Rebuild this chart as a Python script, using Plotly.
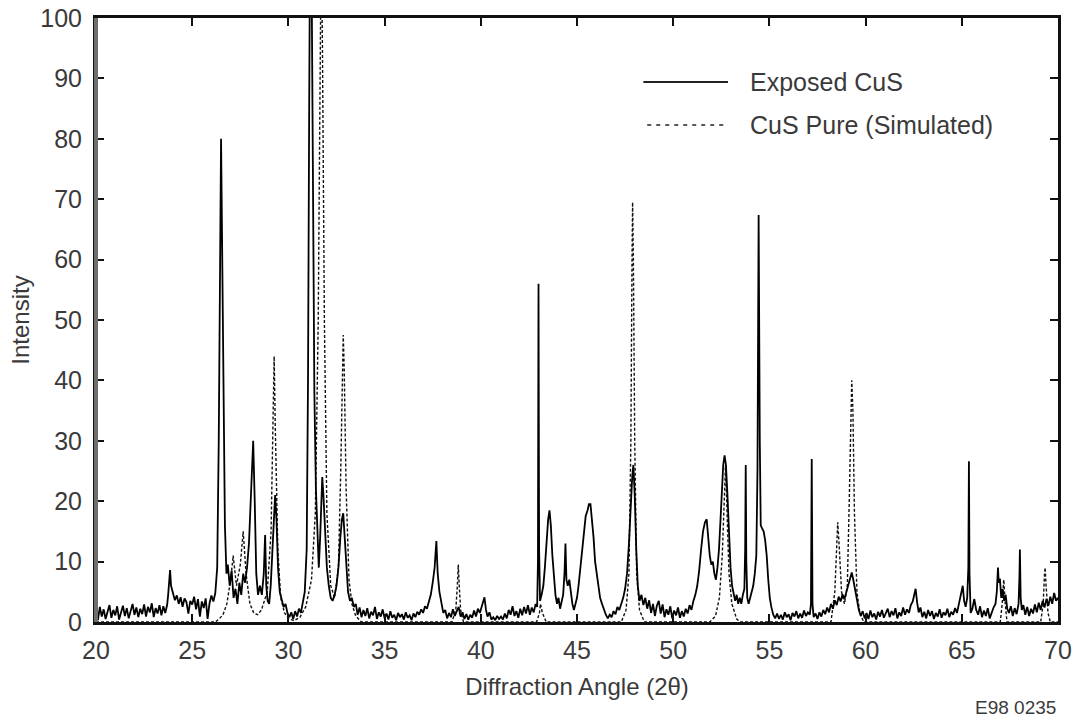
import plotly.graph_objects as go

exposed_points = [
    (20.0, 1.4), (20.1, 0.3), (20.2, 2.5), (20.3, 0.9), (20.4, 2.1), (20.5, 0.5), (20.6, 1.7), (20.7, 2.8),
    (20.8, 0.7), (20.9, 2.0), (21.0, 1.1), (21.1, 2.6), (21.2, 0.4), (21.3, 1.8), (21.4, 2.7), (21.5, 1.0),
    (21.6, 2.3), (21.7, 0.6), (21.8, 1.9), (21.9, 3.0), (22.0, 1.2), (22.1, 2.4), (22.2, 0.8), (22.3, 2.2),
    (22.4, 1.3), (22.5, 2.9), (22.6, 0.9), (22.7, 2.5), (22.8, 1.6), (22.9, 3.1), (23.0, 0.8), (23.1, 2.3),
    (23.2, 1.4), (23.3, 2.8), (23.4, 1.1), (23.5, 2.6), (23.6, 1.5), (23.7, 2.9), (23.75, 4.5), (23.8, 7.0),
    (23.85, 8.6), (23.9, 6.0), (24.0, 4.8), (24.1, 3.6), (24.2, 4.4), (24.3, 3.0), (24.4, 4.1), (24.5, 2.5),
    (24.6, 3.9), (24.7, 3.3), (24.8, 1.4), (24.9, 3.5), (25.0, 2.9), (25.1, 4.2), (25.2, 2.1), (25.3, 3.8),
    (25.4, 0.9), (25.5, 3.4), (25.6, 2.3), (25.7, 3.9), (25.8, 0.5), (25.9, 3.1), (26.0, 4.4), (26.1, 3.4),
    (26.2, 4.8), (26.3, 9.0), (26.38, 30.0), (26.45, 62.0), (26.5, 80.0), (26.55, 64.0), (26.62, 40.0),
    (26.7, 16.0), (26.78, 8.0), (26.85, 9.5), (26.95, 6.0), (27.05, 8.5), (27.15, 4.0), (27.25, 5.5),
    (27.35, 3.0), (27.45, 6.5), (27.55, 4.5), (27.65, 8.0), (27.75, 6.5), (27.85, 9.0), (27.95, 13.0),
    (28.05, 22.0), (28.17, 30.0), (28.25, 20.0), (28.33, 8.0), (28.42, 4.5), (28.52, 6.0), (28.62, 4.5),
    (28.72, 8.0), (28.79, 14.4), (28.85, 6.0), (28.92, 3.5), (29.0, 3.0), (29.08, 6.0), (29.16, 11.0),
    (29.24, 18.0), (29.31, 21.0), (29.38, 17.0), (29.46, 9.0), (29.55, 5.0), (29.65, 3.5), (29.75, 2.5),
    (29.85, 3.0), (29.95, 1.5), (30.05, 0.8), (30.15, 1.6), (30.25, 0.5), (30.35, 1.8), (30.45, 0.9),
    (30.55, 2.2), (30.65, 1.5), (30.75, 3.0), (30.85, 5.0), (30.95, 12.0), (31.02, 40.0), (31.08, 85.0),
    (31.13, 115.0), (31.2, 110.0), (31.27, 70.0), (31.35, 38.0), (31.43, 22.0), (31.5, 14.0), (31.58, 9.0),
    (31.65, 14.0), (31.71, 20.0), (31.76, 24.0), (31.82, 21.0), (31.9, 15.0), (32.0, 9.0), (32.1, 6.0),
    (32.2, 4.0), (32.3, 3.5), (32.4, 4.5), (32.5, 6.0), (32.6, 9.0), (32.7, 14.0), (32.78, 17.0),
    (32.85, 18.0), (32.93, 14.0), (33.0, 9.0), (33.1, 5.0), (33.2, 3.5), (33.3, 4.0), (33.4, 2.5),
    (33.5, 3.0), (33.6, 1.2), (33.7, 2.4), (33.8, 0.8), (33.9, 2.0), (34.0, 1.0), (34.1, 2.3), (34.2, 0.6),
    (34.3, 1.7), (34.4, 1.1), (34.5, 2.5), (34.6, 0.5), (34.7, 1.6), (34.8, 0.9), (34.9, 2.1), (35.0, 0.6),
    (35.1, 1.4), (35.2, 0.4), (35.3, 1.8), (35.4, 0.7), (35.5, 1.2), (35.6, 0.3), (35.7, 1.5), (35.8, 0.8),
    (35.9, 1.3), (36.0, 0.4), (36.1, 1.6), (36.2, 0.7), (36.3, 1.1), (36.4, 0.3), (36.5, 1.4), (36.6, 0.8),
    (36.7, 1.7), (36.8, 1.2), (36.9, 2.1), (37.0, 1.5), (37.1, 2.6), (37.2, 2.2), (37.3, 3.4), (37.4, 4.5),
    (37.5, 6.5), (37.6, 9.0), (37.69, 13.4), (37.76, 8.0), (37.85, 5.0), (37.95, 3.0), (38.05, 1.5),
    (38.15, 2.0), (38.25, 0.6), (38.35, 1.5), (38.45, 0.8), (38.55, 2.1), (38.65, 1.0), (38.75, 1.8),
    (38.85, 2.5), (38.95, 0.9), (39.05, 1.6), (39.15, 0.5), (39.25, 1.3), (39.35, 0.4), (39.45, 1.2),
    (39.55, 0.7), (39.65, 1.9), (39.75, 0.9), (39.85, 2.2), (39.95, 1.5), (40.05, 2.6), (40.12, 3.2),
    (40.19, 4.1), (40.27, 2.0), (40.35, 0.9), (40.45, 1.6), (40.55, 0.4), (40.65, 0.8), (40.75, 0.3),
    (40.85, 1.0), (40.95, 0.5), (41.05, 0.9), (41.15, 0.4), (41.25, 1.4), (41.35, 0.6), (41.45, 2.0),
    (41.55, 1.2), (41.65, 2.6), (41.75, 1.0), (41.85, 1.8), (41.95, 0.7), (42.05, 2.2), (42.15, 1.1),
    (42.25, 2.5), (42.35, 1.4), (42.45, 2.8), (42.55, 1.2), (42.65, 2.4), (42.75, 1.6), (42.85, 3.0),
    (42.93, 2.5), (42.97, 10.0), (43.0, 56.0), (43.03, 12.0), (43.08, 3.5), (43.16, 4.5), (43.25, 6.0),
    (43.33, 9.0), (43.42, 14.0), (43.5, 17.0), (43.57, 18.5), (43.64, 16.0), (43.72, 11.0), (43.8, 7.0),
    (43.88, 4.5), (43.96, 3.0), (44.04, 4.0), (44.12, 2.2), (44.2, 3.5), (44.28, 4.5), (44.35, 8.0),
    (44.4, 13.0), (44.45, 7.0), (44.52, 6.0), (44.6, 7.0), (44.68, 4.5), (44.76, 3.0), (44.84, 2.0),
    (44.92, 3.0), (45.0, 4.0), (45.08, 6.0), (45.16, 8.5), (45.25, 12.0), (45.35, 15.0), (45.45, 17.5),
    (45.55, 18.5), (45.62, 19.5), (45.7, 19.5), (45.78, 17.0), (45.86, 14.0), (45.94, 10.0), (46.02, 8.0),
    (46.1, 6.0), (46.2, 4.0), (46.3, 3.0), (46.4, 2.0), (46.5, 1.2), (46.6, 0.6), (46.7, 1.2), (46.8, 0.8),
    (46.9, 1.8), (47.0, 1.3), (47.1, 2.5), (47.2, 2.0), (47.3, 3.0), (47.4, 4.0), (47.5, 5.5), (47.6, 8.0),
    (47.7, 13.0), (47.8, 20.0), (47.87, 24.0), (47.93, 26.0), (48.0, 21.0), (48.08, 12.0), (48.16, 6.0),
    (48.25, 3.5), (48.35, 4.5), (48.45, 2.8), (48.55, 4.0), (48.65, 2.2), (48.75, 3.6), (48.85, 1.5),
    (48.95, 3.0), (49.05, 1.0), (49.15, 2.7), (49.25, 3.5), (49.35, 1.4), (49.45, 2.9), (49.55, 0.8),
    (49.65, 2.1), (49.75, 1.2), (49.85, 2.6), (49.95, 0.6), (50.05, 1.9), (50.15, 1.1), (50.25, 2.4),
    (50.35, 0.7), (50.45, 1.8), (50.55, 0.9), (50.65, 2.2), (50.75, 1.4), (50.85, 2.8), (50.95, 2.0),
    (51.05, 3.5), (51.15, 4.5), (51.25, 6.0), (51.35, 8.5), (51.45, 12.0), (51.55, 15.0), (51.65, 16.5),
    (51.74, 17.0), (51.82, 14.0), (51.9, 11.0), (51.98, 9.5), (52.06, 10.0), (52.14, 8.0), (52.22, 7.0),
    (52.3, 9.0), (52.38, 12.0), (52.46, 17.0), (52.54, 22.0), (52.6, 26.0), (52.67, 27.6), (52.74, 26.0),
    (52.82, 21.0), (52.9, 14.0), (52.98, 9.0), (53.06, 6.0), (53.14, 4.5), (53.22, 3.5), (53.3, 4.5),
    (53.38, 3.0), (53.46, 4.0), (53.54, 3.0), (53.62, 4.5), (53.7, 5.5), (53.74, 12.0), (53.77, 26.0),
    (53.8, 10.0), (53.85, 4.0), (53.92, 3.0), (54.0, 4.0), (54.08, 5.0), (54.16, 6.0), (54.24, 8.0),
    (54.32, 11.0), (54.38, 25.0), (54.44, 67.4), (54.5, 30.0), (54.55, 16.0), (54.62, 15.5), (54.7, 15.0),
    (54.78, 13.5), (54.86, 11.0), (54.94, 7.0), (55.02, 4.0), (55.1, 2.5), (55.2, 1.2), (55.3, 0.6),
    (55.4, 1.4), (55.5, 0.5), (55.6, 1.2), (55.7, 0.4), (55.8, 1.6), (55.9, 0.8), (56.0, 1.3), (56.1, 0.3),
    (56.2, 1.5), (56.3, 0.9), (56.4, 1.8), (56.5, 0.6), (56.6, 1.4), (56.7, 0.7), (56.8, 1.9), (56.9, 1.0),
    (57.0, 1.6), (57.1, 1.2), (57.16, 3.0), (57.2, 27.0), (57.24, 3.0), (57.3, 0.8), (57.4, 1.4), (57.5, 0.5),
    (57.6, 1.6), (57.7, 0.9), (57.8, 2.0), (57.9, 1.3), (58.0, 2.4), (58.1, 1.6), (58.2, 3.0), (58.3, 2.2),
    (58.4, 3.6), (58.5, 2.8), (58.6, 4.2), (58.7, 3.4), (58.8, 4.6), (58.9, 3.8), (59.0, 5.0), (59.1, 6.0),
    (59.2, 7.2), (59.28, 8.2), (59.36, 7.0), (59.45, 5.5), (59.55, 3.5), (59.65, 2.0), (59.75, 1.0),
    (59.85, 1.8), (59.95, 0.6), (60.05, 1.5), (60.15, 0.5), (60.25, 1.9), (60.35, 0.8), (60.45, 1.4),
    (60.55, 0.4), (60.65, 1.7), (60.75, 0.9), (60.85, 2.0), (60.95, 0.7), (61.05, 1.5), (61.15, 2.2),
    (61.25, 0.8), (61.35, 1.8), (61.45, 1.1), (61.55, 2.3), (61.65, 0.6), (61.75, 1.6), (61.85, 1.0),
    (61.95, 2.4), (62.05, 1.2), (62.15, 2.1), (62.25, 1.5), (62.35, 2.8), (62.45, 3.4), (62.55, 4.6),
    (62.6, 5.5), (62.68, 3.2), (62.76, 1.6), (62.85, 2.4), (62.95, 0.8), (63.05, 1.7), (63.15, 0.6),
    (63.25, 2.0), (63.35, 1.0), (63.45, 1.8), (63.55, 0.5), (63.65, 1.5), (63.75, 0.9), (63.85, 2.1),
    (63.95, 0.7), (64.05, 1.6), (64.15, 1.1), (64.25, 2.2), (64.35, 0.8), (64.45, 1.7), (64.55, 1.2),
    (64.65, 2.3), (64.75, 1.5), (64.85, 3.0), (64.95, 4.5), (65.05, 6.0), (65.12, 3.5), (65.2, 2.5),
    (65.28, 4.0), (65.34, 9.0), (65.37, 26.6), (65.4, 8.0), (65.46, 1.5), (65.55, 2.2), (65.65, 3.8),
    (65.75, 2.0), (65.85, 1.2), (65.95, 2.6), (66.05, 0.8), (66.15, 1.9), (66.25, 1.0), (66.35, 2.3),
    (66.45, 0.6), (66.55, 1.7), (66.65, 2.4), (66.75, 3.0), (66.82, 5.0), (66.88, 9.0), (66.92, 6.5),
    (66.98, 7.2), (67.05, 4.0), (67.12, 5.5), (67.2, 3.5), (67.28, 4.5), (67.36, 2.2), (67.45, 1.5),
    (67.55, 2.6), (67.65, 1.0), (67.75, 2.3), (67.85, 1.3), (67.95, 3.0), (68.0, 8.0), (68.02, 12.0),
    (68.06, 4.0), (68.12, 2.0), (68.2, 2.8), (68.3, 1.2), (68.4, 2.5), (68.5, 1.0), (68.6, 2.2), (68.7, 1.4),
    (68.8, 2.9), (68.9, 1.6), (69.0, 3.2), (69.1, 2.0), (69.2, 3.5), (69.3, 2.4), (69.4, 3.8), (69.5, 2.7),
    (69.6, 4.2), (69.7, 3.0), (69.8, 4.8), (69.9, 3.5), (70.0, 4.0),
]

# ---- CuS Pure (Simulated) pattern ----
simulated_points = [
    (20.0, 0.0), (26.2, 0.0), (26.4, 0.5), (26.6, 1.2), (26.8, 3.0), (27.0, 7.0), (27.13, 11.0),
    (27.3, 6.0), (27.5, 9.5), (27.65, 15.0), (27.8, 8.0), (28.0, 3.0), (28.2, 1.5), (28.4, 1.2),
    (28.6, 2.0), (28.9, 5.0), (29.1, 15.0), (29.2, 32.0), (29.26, 44.0), (29.32, 32.0), (29.45, 12.0),
    (29.6, 4.0), (29.8, 1.5), (30.0, 0.6), (30.3, 0.2), (30.6, 0.8), (30.9, 2.5), (31.2, 7.0),
    (31.4, 18.0), (31.55, 50.0), (31.65, 95.0), (31.71, 115.0), (31.77, 95.0), (31.87, 50.0),
    (32.0, 18.0), (32.2, 6.0), (32.4, 4.0), (32.6, 9.0), (32.72, 25.0), (32.8, 42.0), (32.85, 47.5),
    (32.9, 42.0), (33.0, 22.0), (33.15, 7.0), (33.3, 3.0), (33.5, 1.0), (33.8, 0.0), (38.5, 0.0),
    (38.7, 2.0), (38.78, 6.0), (38.83, 9.5), (38.88, 6.0), (38.95, 2.0), (39.1, 0.0), (42.9, 0.0),
    (43.05, 1.5), (43.1, 3.0), (43.2, 1.5), (43.4, 0.0), (47.3, 0.0), (47.55, 2.0), (47.7, 8.0),
    (47.8, 30.0), (47.86, 60.0), (47.89, 69.5), (47.93, 60.0), (48.0, 30.0), (48.1, 8.0), (48.25, 2.0),
    (48.5, 0.0), (51.9, 0.0), (52.2, 1.0), (52.4, 4.0), (52.55, 11.0), (52.65, 20.0), (52.72, 26.0),
    (52.8, 18.0), (52.9, 8.0), (53.05, 3.0), (53.3, 0.5), (53.5, 0.0), (58.2, 0.0), (58.4, 5.0),
    (58.5, 14.0), (58.55, 16.5), (58.62, 13.0), (58.75, 5.0), (58.9, 3.0), (59.05, 6.0), (59.15, 20.0),
    (59.22, 35.0), (59.28, 40.0), (59.34, 35.0), (59.42, 18.0), (59.55, 5.0), (59.7, 1.5), (59.9, 0.0),
    (67.0, 0.0), (67.1, 3.0), (67.18, 7.0), (67.26, 3.0), (67.35, 0.0), (69.1, 0.0), (69.23, 3.0),
    (69.3, 8.0), (69.33, 9.0), (69.38, 6.0), (69.48, 1.5), (69.6, 0.0), (70.0, 0.0),
]

x_ticks = [20, 25, 30, 35, 40, 45, 50, 55, 60, 65, 70]
y_ticks = [0, 10, 20, 30, 40, 50, 60, 70, 80, 90, 100]
series_names = ["Exposed CuS", "CuS Pure (Simulated)"]
x_title = "Diffraction Angle (2θ)"
y_title = "Intensity"
figure_code = "E98 0235"

exp_x, exp_y = zip(*exposed_points)
sim_x, sim_y = zip(*simulated_points)

FONT = "Liberation Sans, Arial, Helvetica, sans-serif"
TXT = "#3a3a3a"

fig = go.Figure()
fig.add_trace(go.Scatter(x=sim_x, y=sim_y, mode="lines", name=series_names[1],
                         line=dict(color="#111111", width=1.4, dash="3px,2px"), showlegend=False))
fig.add_trace(go.Scatter(x=exp_x, y=exp_y, mode="lines", name=series_names[0],
                         line=dict(color="#000000", width=1.8), showlegend=False))

# hand-drawn legend (long line samples like the original)
fig.add_shape(type="line", xref="paper", yref="paper", x0=0.569, x1=0.657, y0=0.894, y1=0.894,
              line=dict(color="#222222", width=2))
fig.add_shape(type="line", xref="paper", yref="paper", x0=0.573, x1=0.657, y0=0.823, y1=0.823,
              line=dict(color="#222222", width=1.5, dash="4px,5px"))
# greyish left frame edge as in the original
fig.add_shape(type="line", xref="paper", yref="paper", x0=0, x1=0, y0=0, y1=1,
              line=dict(color="#6e6e6e", width=4))
fig.add_annotation(x=0.678, y=0.894, xref="paper", yref="paper", text=series_names[0],
                   showarrow=False, xanchor="left", yanchor="middle",
                   font=dict(family=FONT, size=25, color=TXT))
fig.add_annotation(x=0.678, y=0.823, xref="paper", yref="paper", text=series_names[1],
                   showarrow=False, xanchor="left", yanchor="middle",
                   font=dict(family=FONT, size=25, color=TXT))
fig.add_annotation(x=1.0, y=-0.142, xref="paper", yref="paper", text=figure_code,
                   showarrow=False, xanchor="right", yanchor="middle",
                   font=dict(family=FONT, size=19, color=TXT))

axis_common = dict(showline=True, linewidth=3, linecolor="#111111", mirror="ticks",
                   ticks="inside", ticklen=8, tickwidth=2, tickcolor="#111111",
                   showgrid=False, zeroline=False, automargin=False,
                   tickfont=dict(family=FONT, size=25, color=TXT))

fig.update_xaxes(range=[20, 70], tickvals=x_ticks, ticktext=[str(v) for v in x_ticks],
                 title=dict(text=x_title, font=dict(family=FONT, size=24, color=TXT), standoff=16),
                 ticklabelstandoff=4, **axis_common)
fig.update_yaxes(range=[0, 100], tickvals=y_ticks, ticktext=[str(v) for v in y_ticks],
                 title=dict(text=y_title, font=dict(family=FONT, size=24, color=TXT), standoff=4),
                 ticklabelstandoff=6, **axis_common)

fig.update_layout(width=1075, height=723, margin=dict(l=96, r=17, t=18, b=101),
                  plot_bgcolor="white", paper_bgcolor="white", showlegend=False)

fig.write_html("out.html")
